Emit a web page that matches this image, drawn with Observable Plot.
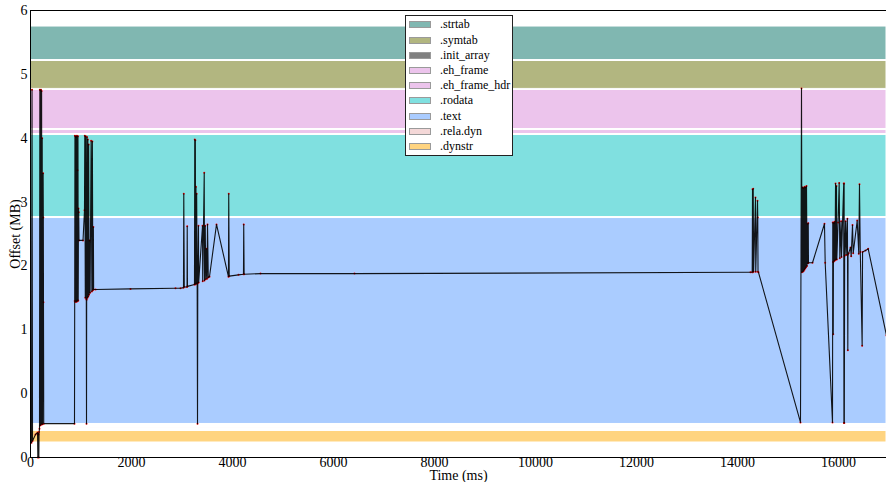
<!DOCTYPE html>
<html><head><meta charset="utf-8">
<script src="https://cdn.jsdelivr.net/npm/d3@7"></script>
<script src="https://cdn.jsdelivr.net/npm/@observablehq/plot@0.6"></script>
<style>
body{margin:0;background:#fff;}
#wrap{position:relative;width:886px;height:482px;font-family:"Liberation Serif",serif;}
#legend{position:absolute;left:405px;top:15px;width:108px;height:141px;border:1px solid #222;background:#fff;box-sizing:border-box;}
.row{position:absolute;left:0;height:15px;display:flex;align-items:center;font-size:12px;color:#000;white-space:nowrap;}
.sw{width:22px;height:7px;margin-left:3px;margin-right:9px;border:1px solid #9a9a9a;box-sizing:border-box;}
</style>
</head><body>
<div id="wrap"><div id="legend"></div></div>
<script>
// Sections (legend order) and their offset extents in MB
const sectionNames  = [".strtab", ".symtab", ".init_array", ".eh_frame", ".eh_frame_hdr", ".rodata", ".text", ".rela.dyn", ".dynstr"];
const sectionStart  = [5.224, 4.772, 4.760, 4.144, 4.066, 2.766, -0.475, -0.535, -0.765];
const sectionEnd    = [5.749, 5.209, 4.765, 4.755, 4.128, 4.050, 2.750, -0.530, -0.585];
const sectionColors = ["#80b7b1", "#b2b680", "#808080", "#ecc4ec", "#ecc4ec", "#80e0e0", "#aaccff", "#f4d8d8", "#ffd480"];

// Access trace: time (ms) and offset (MB)
const traceTime = [
  20,30,40,99,139,145,152,158,165,170,178,185,190,196,202,208,214,220,226,232,238,250,254,257,262,
  871,875,880,885,890,895,900,905,910,915,920,925,930,935,940,945,950,955,960,1040,1069,
  1075,1085,1095,1105,1109,1112,1120,1128,1136,1144,1152,1160,1168,1180,1200,1215,1225,1235,1245,1250,
  1290,1980,2871,2970,3029,
  3035,3045,3100,3103,3108,3247,3252,3258,3264,3270,3276,3282,3290,3300,3307,3312,3326,3330,3406,3410,
  3440,3445,3460,3470,3485,3495,3505,3520,3544,3683,3920,3925,3935,4118,4217,4222,4230,4554,6415,14256,
  14290,14296,14303,14310,14318,14355,14360,14395,14400,14405,14414,
  15246,15266,15275,15285,15292,15300,15308,15316,15324,15332,15340,15348,15356,15365,15375,15385,15395,15400,15404,15484,
  15721,15735,15880,15885,15890,15895,15900,15906,15912,15918,15924,15930,15940,15950,15959,15965,15990,16012,16025,16050,
  16058,16102,16106,16110,16114,16120,16140,16150,16175,16183,16188,16200,16236,16250,16276,16290,16369,16400,16414,16430,
  16467,16475,16533,16586,16949
];
const traceOffset = [
  -0.77,4.76,-0.74,-0.64,-0.61,-1.00,-0.62,-0.64,-1.00,-0.60,-0.55,4.76,-0.50,4.75,-0.49,4.76,-0.48,4.74,-0.48,4.00,-0.48,3.45,2.76,1.43,-0.47,
  -0.47,1.45,4.04,1.44,4.03,1.44,4.02,1.45,4.03,1.44,4.04,1.46,3.50,1.45,4.03,1.46,2.90,2.84,2.40,2.40,2.87,
  4.04,1.50,4.03,1.48,-0.47,1.47,4.02,1.50,3.98,1.52,3.90,1.55,2.40,1.58,3.96,1.60,3.95,1.62,2.61,1.63,
  1.63,1.64,1.65,1.65,1.66,
  3.13,1.67,1.67,2.62,1.68,1.71,3.98,1.71,3.97,1.72,3.24,1.72,3.13,1.73,-0.47,1.73,2.63,1.74,2.63,1.76,
  3.46,1.77,2.63,1.79,2.27,1.80,2.65,1.82,1.83,2.65,1.83,3.13,1.84,1.86,1.87,2.65,1.87,1.88,1.88,1.90,
  1.90,3.20,1.90,3.21,1.91,3.07,1.91,3.02,2.76,1.91,1.90,
  -0.45,4.78,1.90,3.23,1.91,3.22,1.92,3.23,1.94,3.24,1.96,3.23,1.98,3.25,2.00,2.66,2.04,2.67,2.05,2.05,
  2.66,2.05,-0.45,2.68,2.06,0.93,2.68,2.07,2.67,2.08,2.69,2.09,3.29,2.10,3.25,2.10,2.68,3.30,2.12,2.70,
  2.14,3.29,-0.46,3.29,-0.46,2.16,2.70,2.17,2.74,0.68,2.18,2.20,2.29,2.15,2.64,2.20,2.71,2.19,3.28,2.22,
  0.75,2.22,2.24,2.27,0.91
];

// Axis ticks
const xTicks = [0, 2000, 4000, 6000, 8000, 10000, 12000, 14000, 16000];
const yTicks = [-1, 0, 1, 2, 3, 4, 5, 6];
const yTickLabels = ["0", "0", "1", "2", "3", "4", "5", "6"];

const sections = sectionNames.map((name, i) => ({name, start: sectionStart[i], end: sectionEnd[i], color: sectionColors[i]}));
const trace = traceTime.map((t, i) => ({t, o: traceOffset[i]}));
const xMax = d3.max(traceTime);

const chart = Plot.plot({
  width: 886, height: 482,
  marginLeft: 30, marginRight: 0, marginTop: 10, marginBottom: 25,
  style: {fontFamily: "'Liberation Serif', serif", fontSize: "14px", color: "#000", background: "#fff"},
  x: {domain: [0, xMax]},
  y: {domain: [-1, 6]},
  color: {type: "identity"},
  marks: [
    Plot.rect(sections, {x1: 0, x2: xMax, y1: "start", y2: "end", fill: "color", stroke: "#fff", strokeWidth: 1}),
    Plot.dot(trace, {x: "t", y: "o", r: 1.0, fill: "#ff0000", stroke: "none"}),
    Plot.line(trace, {x: "t", y: "o", stroke: "#000", strokeWidth: 1.1, strokeOpacity: 0.9}),
    Plot.ruleX([0], {stroke: "#000"}),
    Plot.ruleY([-1, 6], {stroke: "#000"}),
    Plot.axisX({ticks: xTicks, tickFormat: d => String(d), tickSize: 0, tickPadding: 0, fontSize: 14, label: null}),
    Plot.axisX({ticks: [], label: "Time (ms)", labelAnchor: "center", labelOffset: 22, labelArrow: "none", fontSize: 14}),
    Plot.axisY({ticks: yTicks, tickFormat: d => yTickLabels[yTicks.indexOf(d)], tickSize: 0, tickPadding: 3, fontSize: 14,
      label: "Offset (MB)", labelAnchor: "center", labelOffset: 20, labelArrow: "none"})
  ]
});
const wrap = document.getElementById("wrap");
wrap.insertBefore(chart, wrap.firstChild);

const legend = document.getElementById("legend");
sectionNames.forEach((name, i) => {
  const row = document.createElement("div");
  row.className = "row";
  row.style.top = (1.4 + 15.2 * i) + "px";
  const sw = document.createElement("div");
  sw.className = "sw";
  sw.style.background = sectionColors[i];
  const label = document.createElement("span");
  label.textContent = name;
  row.appendChild(sw);
  row.appendChild(label);
  legend.appendChild(row);
});
</script>
</body></html>
